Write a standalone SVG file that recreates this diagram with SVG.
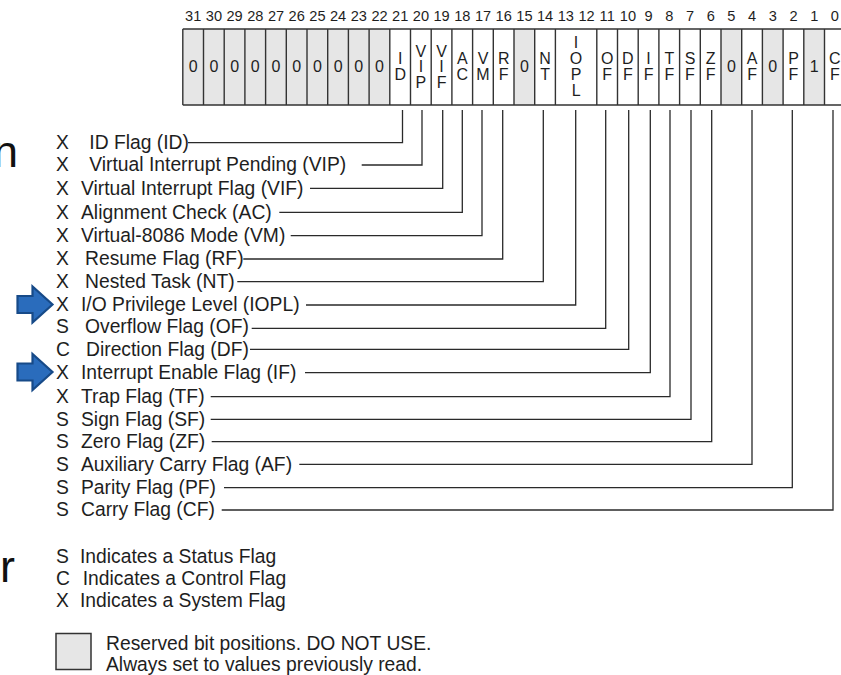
<svg xmlns="http://www.w3.org/2000/svg" width="841" height="675" viewBox="0 0 841 675">
<style>
text{font-family:"Liberation Sans",Arial,sans-serif;fill:#1e1e1e}
.bn{font-size:14.6px;text-anchor:middle}
.cl{font-size:16px;text-anchor:middle}
.lb{font-size:19.3px}
.big{font-size:45px;fill:#111}
.res{fill:#e6e6e6;stroke:none}
.div{stroke:#333;stroke-width:1.4}
.conn{fill:none;stroke:#2a2a2a;stroke-width:1.3}
.arrow{fill:#2a6cbc;stroke:#174a88;stroke-width:2.2;stroke-linejoin:miter}
</style>
<defs>
<path id="blueArrow" class="arrow" d="M0,-8.5 H15 V-18 L35,0 L15,18 V8.5 H0 Z"/>
</defs>
<rect width="841" height="675" fill="#fff"/>
<text class="big" x="-7" y="167">n</text>
<text class="big" x="0" y="582">r</text>

<g id="bit-numbers">
<text class="bn" x="193.2" y="21">31</text><text class="bn" x="213.9" y="21">30</text><text class="bn" x="234.6" y="21">29</text><text class="bn" x="255.3" y="21">28</text><text class="bn" x="276" y="21">27</text><text class="bn" x="296.7" y="21">26</text><text class="bn" x="317.4" y="21">25</text><text class="bn" x="338.1" y="21">24</text><text class="bn" x="358.8" y="21">23</text><text class="bn" x="379.5" y="21">22</text><text class="bn" x="400.2" y="21">21</text><text class="bn" x="420.9" y="21">20</text><text class="bn" x="441.6" y="21">19</text><text class="bn" x="462.3" y="21">18</text><text class="bn" x="483" y="21">17</text><text class="bn" x="503.7" y="21">16</text><text class="bn" x="524.4" y="21">15</text><text class="bn" x="545.1" y="21">14</text><text class="bn" x="565.8" y="21">13</text><text class="bn" x="586.5" y="21">12</text><text class="bn" x="607.2" y="21">11</text><text class="bn" x="627.9" y="21">10</text><text class="bn" x="648.6" y="21">9</text><text class="bn" x="669.3" y="21">8</text><text class="bn" x="690" y="21">7</text><text class="bn" x="710.7" y="21">6</text><text class="bn" x="731.4" y="21">5</text><text class="bn" x="752.1" y="21">4</text><text class="bn" x="772.8" y="21">3</text><text class="bn" x="793.5" y="21">2</text><text class="bn" x="814.2" y="21">1</text><text class="bn" x="834.9" y="21">0</text>
</g>

<g id="register">
<rect class="res" x="182.8" y="29" width="207" height="76"/>
<rect class="res" x="514" y="29" width="20.7" height="76"/>
<rect class="res" x="721" y="29" width="20.7" height="76"/>
<rect class="res" x="762.4" y="29" width="20.7" height="76"/>
<rect class="res" x="803.8" y="29" width="20.7" height="76"/>
<path class="div" fill="none" d="M182.8,29 H845 M182.8,105 H845 M182.8,29 V105 M203.5,29 V105 M224.2,29 V105 M244.9,29 V105 M265.6,29 V105 M286.3,29 V105 M307,29 V105 M327.7,29 V105 M348.4,29 V105 M369.1,29 V105 M389.8,29 V105 M410.5,29 V105 M431.2,29 V105 M451.9,29 V105 M472.6,29 V105 M493.3,29 V105 M514,29 V105 M534.7,29 V105 M555.4,29 V105 M596.8,29 V105 M617.5,29 V105 M638.2,29 V105 M658.9,29 V105 M679.6,29 V105 M700.3,29 V105 M721,29 V105 M741.7,29 V105 M762.4,29 V105 M783.1,29 V105 M803.8,29 V105 M824.5,29 V105"/>
<g class="cells">
<text class="cl" x="193.2" y="72">0</text><text class="cl" x="213.9" y="72">0</text><text class="cl" x="234.6" y="72">0</text><text class="cl" x="255.3" y="72">0</text><text class="cl" x="276" y="72">0</text><text class="cl" x="296.7" y="72">0</text><text class="cl" x="317.4" y="72">0</text><text class="cl" x="338.1" y="72">0</text><text class="cl" x="358.8" y="72">0</text><text class="cl" x="379.5" y="72">0</text>
<text class="cl" x="400.2" y="64">I<tspan x="400.2" y="79.5">D</tspan></text>
<text class="cl" x="420.9" y="56.5">V<tspan x="420.9" y="72">I</tspan><tspan x="420.9" y="87.5">P</tspan></text>
<text class="cl" x="441.6" y="56.5">V<tspan x="441.6" y="72">I</tspan><tspan x="441.6" y="87.5">F</tspan></text>
<text class="cl" x="462.3" y="64">A<tspan x="462.3" y="79.5">C</tspan></text>
<text class="cl" x="483" y="64">V<tspan x="483" y="79.5">M</tspan></text>
<text class="cl" x="503.7" y="64">R<tspan x="503.7" y="79.5">F</tspan></text>
<text class="cl" x="524.4" y="72">0</text>
<text class="cl" x="545.1" y="64">N<tspan x="545.1" y="79.5">T</tspan></text>
<text class="cl" x="576.1" y="48">I<tspan x="576.1" y="64">O</tspan><tspan x="576.1" y="80">P</tspan><tspan x="576.1" y="96">L</tspan></text>
<text class="cl" x="607.2" y="64">O<tspan x="607.2" y="79.5">F</tspan></text>
<text class="cl" x="627.9" y="64">D<tspan x="627.9" y="79.5">F</tspan></text>
<text class="cl" x="648.6" y="64">I<tspan x="648.6" y="79.5">F</tspan></text>
<text class="cl" x="669.3" y="64">T<tspan x="669.3" y="79.5">F</tspan></text>
<text class="cl" x="690" y="64">S<tspan x="690" y="79.5">F</tspan></text>
<text class="cl" x="710.7" y="64">Z<tspan x="710.7" y="79.5">F</tspan></text>
<text class="cl" x="731.4" y="72">0</text>
<text class="cl" x="752.1" y="64">A<tspan x="752.1" y="79.5">F</tspan></text>
<text class="cl" x="772.8" y="72">0</text>
<text class="cl" x="793.5" y="64">P<tspan x="793.5" y="79.5">F</tspan></text>
<text class="cl" x="814.2" y="72">1</text>
<text class="cl" x="834.9" y="64">C<tspan x="834.9" y="79.5">F</tspan></text>
</g>
</g>

<g id="connectors">
<path class="conn" d="M188,142.7 H402.5 V110"/>
<path class="conn" d="M361.7,165 H422 V110"/>
<path class="conn" d="M310,188.3 H442.7 V110"/>
<path class="conn" d="M279.3,212.3 H462.3 V110"/>
<path class="conn" d="M290.7,235.7 H482 V110"/>
<path class="conn" d="M243.3,259 H502.7 V110"/>
<path class="conn" d="M237.3,281.7 H543.3 V110"/>
<path class="conn" d="M306,305 H575.7 V110"/>
<path class="conn" d="M251.7,328.3 H605.7 V110"/>
<path class="conn" d="M250,349.3 H628.7 V110"/>
<path class="conn" d="M305,372.7 H650.3 V110"/>
<path class="conn" d="M210.7,396.7 H670 V110"/>
<path class="conn" d="M210.7,419.3 H691 V110"/>
<path class="conn" d="M211.7,441.7 H711.7 V110"/>
<path class="conn" d="M299.3,464.3 H752 V110"/>
<path class="conn" d="M224,487.7 H792.3 V110"/>
<path class="conn" d="M221.7,510 H833 V110"/>
</g>

<g id="flag-id"><text class="lb" x="56" y="149">X</text><text class="lb" x="89.3" y="149">ID Flag (ID)</text></g>
<g id="flag-vip"><text class="lb" x="56" y="171.3">X</text><text class="lb" x="89.3" y="171.3">Virtual Interrupt Pending (VIP)</text></g>
<g id="flag-vif"><text class="lb" x="56" y="194.6">X</text><text class="lb" x="81" y="194.6">Virtual Interrupt Flag (VIF)</text></g>
<g id="flag-ac"><text class="lb" x="56" y="218.6">X</text><text class="lb" x="81" y="218.6">Alignment Check (AC)</text></g>
<g id="flag-vm"><text class="lb" x="56" y="242">X</text><text class="lb" x="81" y="242">Virtual-8086 Mode (VM)</text></g>
<g id="flag-rf"><text class="lb" x="56" y="265.3">X</text><text class="lb" x="85" y="265.3">Resume Flag (RF)</text></g>
<g id="flag-nt"><text class="lb" x="56" y="288">X</text><text class="lb" x="85" y="288">Nested Task (NT)</text></g>
<g id="flag-iopl"><text class="lb" x="56" y="311.3">X</text><text class="lb" x="81" y="311.3">I/O Privilege Level (IOPL)</text></g>
<g id="flag-of"><text class="lb" x="56" y="333.3">S</text><text class="lb" x="85" y="333.3">Overflow Flag (OF)</text></g>
<g id="flag-df"><text class="lb" x="56" y="355.6">C</text><text class="lb" x="86" y="355.6">Direction Flag (DF)</text></g>
<g id="flag-if"><text class="lb" x="56" y="379">X</text><text class="lb" x="81" y="379">Interrupt Enable Flag (IF)</text></g>
<g id="flag-tf"><text class="lb" x="56" y="403">X</text><text class="lb" x="81" y="403">Trap Flag (TF)</text></g>
<g id="flag-sf"><text class="lb" x="56" y="425.6">S</text><text class="lb" x="81" y="425.6">Sign Flag (SF)</text></g>
<g id="flag-zf"><text class="lb" x="56" y="448">S</text><text class="lb" x="81" y="448">Zero Flag (ZF)</text></g>
<g id="flag-af"><text class="lb" x="56" y="470.6">S</text><text class="lb" x="81" y="470.6">Auxiliary Carry Flag (AF)</text></g>
<g id="flag-pf"><text class="lb" x="56" y="494">S</text><text class="lb" x="81" y="494">Parity Flag (PF)</text></g>
<g id="flag-cf"><text class="lb" x="56" y="516.3">S</text><text class="lb" x="81" y="516.3">Carry Flag (CF)</text></g>

<g id="arrow-iopl"><use href="#blueArrow" transform="translate(17.5,304.5)"/></g>
<g id="arrow-if"><use href="#blueArrow" transform="translate(17.5,372)"/></g>

<g id="legend">
<text class="lb" x="56" y="563">S</text><text class="lb" x="80" y="563">Indicates a Status Flag</text>
<text class="lb" x="56" y="585">C</text><text class="lb" x="82.7" y="585">Indicates a Control Flag</text>
<text class="lb" x="56" y="607">X</text><text class="lb" x="80" y="607">Indicates a System Flag</text>
<rect x="56" y="633.5" width="35" height="36" fill="#e6e6e6" stroke="#333" stroke-width="1.5"/>
<text class="lb" x="106" y="650">Reserved bit positions. DO NOT USE.</text>
<text class="lb" x="106" y="671">Always set to values previously read.</text>
</g>
</svg>
